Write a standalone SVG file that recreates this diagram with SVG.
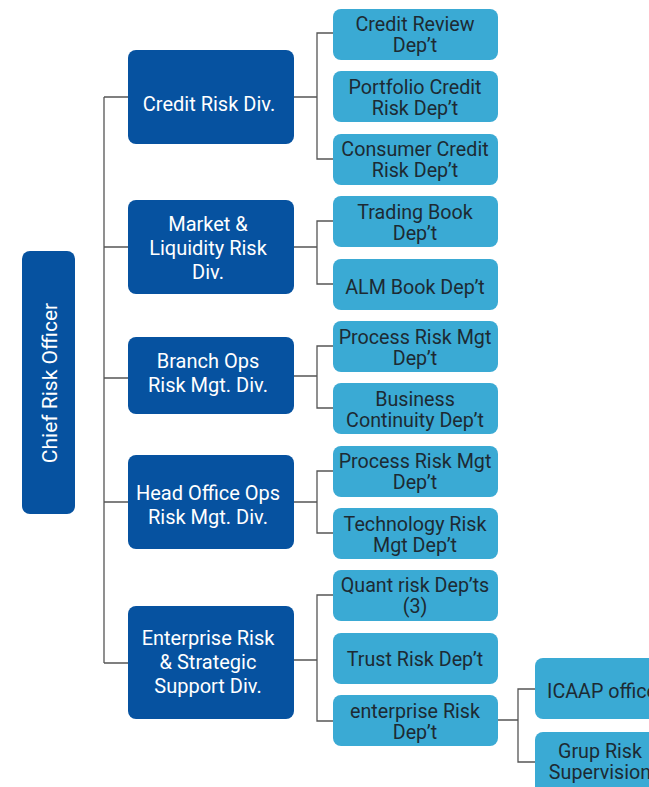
<svg xmlns="http://www.w3.org/2000/svg" width="649" height="787" viewBox="0 0 649 787">
<style>
.dk{fill:#0652a0}
.lt{fill:#3aaad4}
.tw{fill:#ffffff;font-family:Roboto,"Liberation Sans",sans-serif;font-size:20px;text-anchor:middle}
.td{fill:#1d2a33;font-family:Roboto,"Liberation Sans",sans-serif;font-size:19.7px;text-anchor:middle}
.ln{fill:none;stroke:#555;stroke-width:1.3}
</style>
<rect width="649" height="787" fill="#fff"/>
<g id="connectors" class="ln">
<path d="M104 97V663M104 97H128M104 247H128M104 378H128M104 502H128M104 663H128"/>
<path d="M294 97H317M333 33H317V159H333"/>
<path d="M294 247H317M333 221H317V284H333"/>
<path d="M294 376H317M333 346H317V408H333"/>
<path d="M294 502H317M333 471H317V533H333"/>
<path d="M294 660H317M333 595H317V721H333"/>
<path d="M498 720H518M536 689H518V762H536"/>
</g>
<g id="cro"><rect class="dk" x="22" y="251" width="53" height="263" rx="8"/><text class="tw" transform="translate(57 383) rotate(-90)" style="font-size:21px">Chief Risk Officer</text></g>
<g id="div-credit"><rect class="dk" x="128" y="50" width="166" height="94" rx="8"/><text class="tw" x="209" y="111">Credit Risk Div.</text></g>
<g id="div-market"><rect class="dk" x="128" y="200" width="166" height="94" rx="8"/><text class="tw" x="208" y="231">Market &amp;</text><text class="tw" x="208" y="255">Liquidity Risk</text><text class="tw" x="208" y="279">Div.</text></g>
<g id="div-branch"><rect class="dk" x="128" y="337" width="166" height="77" rx="8"/><text class="tw" x="208" y="368">Branch Ops</text><text class="tw" x="208" y="392">Risk Mgt. Div.</text></g>
<g id="div-head"><rect class="dk" x="128" y="455" width="166" height="94" rx="8"/><text class="tw" x="208" y="500">Head Office Ops</text><text class="tw" x="208" y="524">Risk Mgt. Div.</text></g>
<g id="div-enterprise"><rect class="dk" x="128" y="606" width="166" height="113" rx="8"/><text class="tw" x="208" y="645">Enterprise Risk</text><text class="tw" x="208" y="669">&amp; Strategic</text><text class="tw" x="208" y="693">Support Div.</text></g>
<g id="d1"><rect class="lt" x="333" y="9" width="165" height="51" rx="8"/><text class="td" x="415" y="31">Credit Review</text><text class="td" x="415" y="52">Dep’t</text></g>
<g id="d2"><rect class="lt" x="333" y="71" width="165" height="51" rx="8"/><text class="td" x="415" y="94">Portfolio Credit</text><text class="td" x="415" y="115">Risk Dep’t</text></g>
<g id="d3"><rect class="lt" x="333" y="134" width="165" height="51" rx="8"/><text class="td" x="415" y="156">Consumer Credit</text><text class="td" x="415" y="177">Risk Dep’t</text></g>
<g id="d4"><rect class="lt" x="333" y="196" width="165" height="51" rx="8"/><text class="td" x="415" y="219">Trading Book</text><text class="td" x="415" y="240">Dep’t</text></g>
<g id="d5"><rect class="lt" x="333" y="259" width="165" height="51" rx="8"/><text class="td" x="415" y="294">ALM Book Dep’t</text></g>
<g id="d6"><rect class="lt" x="333" y="321" width="165" height="51" rx="8"/><text class="td" x="415" y="344">Process Risk Mgt</text><text class="td" x="415" y="365">Dep’t</text></g>
<g id="d7"><rect class="lt" x="333" y="383" width="165" height="51" rx="8"/><text class="td" x="415" y="406">Business</text><text class="td" x="415" y="427">Continuity Dep’t</text></g>
<g id="d8"><rect class="lt" x="333" y="446" width="165" height="51" rx="8"/><text class="td" x="415" y="468">Process Risk Mgt</text><text class="td" x="415" y="489">Dep’t</text></g>
<g id="d9"><rect class="lt" x="333" y="508" width="165" height="51" rx="8"/><text class="td" x="415" y="531">Technology Risk</text><text class="td" x="415" y="552">Mgt Dep’t</text></g>
<g id="d10"><rect class="lt" x="333" y="570" width="165" height="51" rx="8"/><text class="td" x="415" y="592">Quant risk Dep’ts</text><text class="td" x="415" y="613">(3)</text></g>
<g id="d11"><rect class="lt" x="333" y="633" width="165" height="51" rx="8"/><text class="td" x="415" y="666">Trust Risk Dep’t</text></g>
<g id="d12"><rect class="lt" x="333" y="695" width="165" height="51" rx="8"/><text class="td" x="415" y="718">enterprise Risk</text><text class="td" x="415" y="739">Dep’t</text></g>
<g id="icaap"><rect class="lt" x="535" y="658" width="130" height="61" rx="8"/><text class="td" x="602" y="698">ICAAP office</text></g>
<g id="grup"><rect class="lt" x="535" y="732" width="130" height="70" rx="8"/><text class="td" x="600" y="758">Grup Risk</text><text class="td" x="600" y="779">Supervision</text></g>
</svg>
